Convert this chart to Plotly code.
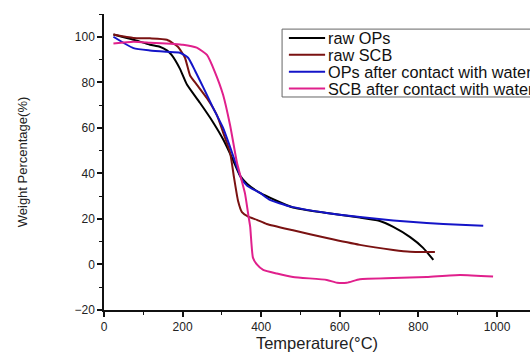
import plotly.graph_objects as go

# Temperature (°C) and weight (%) for each series
raw_ops_t = [24, 75, 117, 142, 160, 172, 193, 211, 244, 277, 303, 328, 346, 364, 397, 481, 567, 651, 700, 736, 779, 812, 838]
raw_ops_w = [101, 98.7, 96.5, 95.6, 94, 92, 86, 79, 71, 62.6, 55, 46, 39, 35.5, 31.4, 25, 22.6, 20.6, 19.2, 16.5, 12, 7.3, 2]

raw_scb_t = [24, 75, 117, 160, 188, 206, 219, 236, 262, 287, 303, 321, 331, 341, 351, 367, 389, 414, 481, 567, 651, 736, 779, 842]
raw_scb_w = [101, 99.5, 99.3, 98.7, 95.6, 90.8, 83, 79, 73, 65.7, 58, 49, 38, 28, 23, 21, 19.6, 17.8, 15, 11.6, 8.6, 6.4, 5.6, 5.5]

ops_water_t = [24, 75, 117, 160, 193, 214, 232, 252, 277, 303, 320, 338, 350, 365, 397, 422, 473, 567, 651, 736, 821, 906, 965]
ops_water_w = [100, 95, 94, 93.4, 93, 90.8, 85, 78, 69, 60, 52, 43, 37.5, 34.5, 31.4, 28.4, 25.5, 22.6, 20.8, 19.3, 18.2, 17.4, 17]

scb_water_t = [24, 75, 117, 201, 236, 262, 282, 303, 321, 338, 350, 359, 367, 372, 379, 389, 405, 440, 481, 567, 593, 618, 651, 736, 821, 906, 990]
scb_water_w = [97, 97.8, 97.4, 96.5, 95.2, 92, 84.6, 74.5, 61, 45, 37, 31, 22, 16.5, 3, 0, -2.4, -4, -5.5, -6.8, -8, -8, -6.5, -6, -5.5, -4.6, -5.3]

series_names = ["raw OPs", "raw SCB", "OPs after contact with water", "SCB after contact with water"]
series_colors = ["#000000", "#7a1212", "#1414c8", "#e0208c"]

fig = go.Figure()
for name, color, t, w in zip(
    series_names, series_colors,
    [raw_ops_t, raw_scb_t, ops_water_t, scb_water_t],
    [raw_ops_w, raw_scb_w, ops_water_w, scb_water_w],
):
    fig.add_trace(go.Scatter(x=t, y=w, mode="lines", name=name, showlegend=False,
                             line=dict(color=color, width=2, shape="spline", smoothing=0.5)))

# Hand-drawn legend box (it runs past the right edge of the picture, as in the reference)
leg_x0, leg_x1, leg_y0, leg_y1 = 0.418, 1.3, 0.7196, 0.949
row_y = [0.919, 0.862, 0.805, 0.748]
fig.add_shape(type="rect", xref="paper", yref="paper", x0=leg_x0, x1=leg_x1, y0=leg_y0, y1=leg_y1,
              line=dict(color="#666", width=1), fillcolor="rgba(0,0,0,0)")
for name, color, yy in zip(series_names, series_colors, row_y):
    fig.add_shape(type="line", xref="paper", yref="paper", x0=0.434, x1=0.519, y0=yy, y1=yy,
                  line=dict(color=color, width=2))
    fig.add_annotation(xref="paper", yref="paper", x=0.521, y=yy, xanchor="left", yanchor="middle",
                       text=name, showarrow=False,
                       font=dict(family="Liberation Sans, Arial, sans-serif", size=16.3, color="#111"))

fig.update_layout(
    width=530, height=353,
    margin=dict(l=104, r=0, t=14, b=43),
    plot_bgcolor="white", paper_bgcolor="white",
    font=dict(family="Liberation Sans, Arial, sans-serif", size=12, color="#222"),
    showlegend=False,
    xaxis=dict(range=[0, 1084], tickvals=[0, 200, 400, 600, 800, 1000],
               showline=True, linecolor="#111", linewidth=1.5, ticks="outside",
               ticklen=5, tickcolor="#111", tickwidth=1.5, showgrid=False, zeroline=False,
               minor=dict(ticks="outside", dtick=100, ticklen=3, tickcolor="#111", tickwidth=1),
               title=dict(text="Temperature(°C)", font=dict(size=16.5), standoff=4),
               tickfont=dict(size=12)),
    yaxis=dict(range=[-20, 110], tickvals=[-20, 0, 20, 40, 60, 80, 100],
               showline=True, linecolor="#111", linewidth=1.5, ticks="outside",
               ticklen=5, tickcolor="#111", tickwidth=1.5, showgrid=False, zeroline=False,
               minor=dict(ticks="outside", dtick=10, ticklen=3, tickcolor="#111", tickwidth=1),
               title=dict(text="Weight Percentage(%)", font=dict(size=13), standoff=44),
               tickfont=dict(size=12)),
)

fig.write_html("out.html")
